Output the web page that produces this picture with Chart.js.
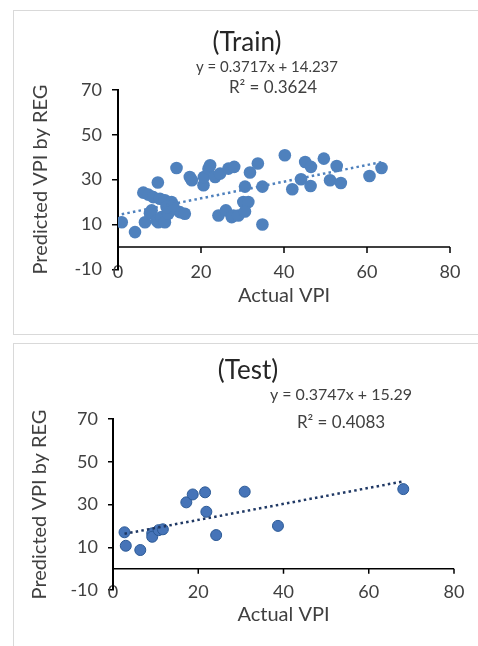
<!DOCTYPE html>
<html><head><meta charset="utf-8">
<script src="https://cdn.jsdelivr.net/npm/chart.js@4.4.1/dist/chart.umd.min.js"></script>
<style>
html,body{margin:0;padding:0;background:#fff;width:478px;height:646px;overflow:hidden;}
.panel{position:absolute;border:1.5px solid #d9d9d9;box-sizing:border-box;}
canvas{position:absolute;}
</style></head><body>
<div class="panel" style="left:13px;top:10px;width:480px;height:325px;"></div>
<div class="panel" style="left:13px;top:343px;width:480px;height:320px;"></div>
<canvas id="c1" width="478" height="330" style="left:0;top:0;width:478px;height:330px"></canvas>
<canvas id="c2" width="478" height="308" style="left:0;top:338px;width:478px;height:308px"></canvas>
<script>
// ---- data ----
const trainActual = [0.9,4.1,6.1,7.3,8.5,9.6,10.1,11.3,12.9,14.1,14.9,16.1,6.5,8.1,7.7,9.3,9.7,10.5,11.3,12.1,12.5,11.7,13.3,
  17.3,17.8,20.6,20.7,21.8,22.2,23.4,24.6,26.6,28.0,24.2,26.0,27.4,27.8,29.0,30.2,31.4,30.6,30.6,31.8,33.7,34.8,34.8,
  40.2,42.0,44.1,45.1,46.5,46.4,49.6,51.1,52.7,53.7,60.6,63.5];
const trainPredicted = [11.0,6.6,24.2,23.3,22.2,28.7,21.5,20.8,20.0,35.2,15.5,14.8,11.0,16.3,15.0,11.8,11.0,13.3,11.0,14.8,17.8,17.8,18.5,
  31.2,29.7,27.5,31.2,34.9,36.4,31.2,32.7,34.9,35.7,14.0,16.3,13.3,14.0,14.0,20.0,20.0,15.8,26.9,33.2,37.2,26.9,10.0,
  40.9,25.7,30.2,37.9,35.7,27.2,39.4,29.7,36.1,28.5,31.6,35.2];
const testActual = [2.7,3.0,6.4,9.2,9.2,10.7,11.7,17.2,18.7,21.6,21.9,24.2,30.9,38.7,68.1];
const testPredicted = [17.0,10.7,8.7,16.5,14.9,18.0,18.4,31.0,34.7,35.7,26.6,15.7,36.0,20.0,37.2];
const xTickValues = [0,20,40,60,80];
const yTickValues = [-10,10,30,50,70];
const trainSlope = 0.3717, trainIntercept = 14.237, trainR2 = 0.3624;
const testSlope = 0.3747, testIntercept = 15.29, testR2 = 0.4083;

Chart.defaults.font.family = 'Lato, "Open Sans", sans-serif';
Chart.defaults.animation = false;

const zeroAxis = {
  id: 'zeroAxis',
  beforeDatasetsDraw(chart, args, opts) {
    const {ctx, chartArea, scales} = chart;
    const x = scales.x, y = scales.y;
    const py = y.getPixelForValue(0);
    ctx.save();
    ctx.strokeStyle = '#000';
    ctx.lineWidth = opts.width;
    ctx.beginPath();
    ctx.moveTo(chartArea.left, py); ctx.lineTo(chartArea.right, py);
    x.ticks.forEach(t => { const px = x.getPixelForValue(t.value); ctx.moveTo(px, py); ctx.lineTo(px, py + opts.tick); });
    ctx.stroke();
    ctx.restore();
  }
};
const textItems = {
  id: 'textItems',
  afterDraw(chart, args, opts) {
    const ctx = chart.ctx;
    ctx.save();
    ctx.textAlign = 'center'; ctx.textBaseline = 'middle';
    opts.items.forEach(it => { ctx.font = it.font; ctx.fillStyle = it.color; ctx.fillText(it.text, it.x, it.y); });
    ctx.restore();
  }
};

function makeChart(id, xs, ys, slope, intercept, r2, st) {
  const pts = xs.map((v, i) => ({x: v, y: ys[i]}));
  const minX = Math.min(...xs), maxX = Math.max(...xs);
  const trend = [{x: minX, y: slope * minX + intercept}, {x: maxX, y: slope * maxX + intercept}];
  const step = xTickValues[1] - xTickValues[0];
  const ystep = yTickValues[1] - yTickValues[0];
  return new Chart(document.getElementById(id), {
    type: 'scatter',
    data: { datasets: [
      { type: 'line', data: trend, borderColor: st.trendColor, borderWidth: 2.5, borderDash: [2.5, 3.2],
        pointRadius: 0, fill: false, order: 0 },
      { data: pts, backgroundColor: st.pointColor, borderColor: st.pointBorder, borderWidth: st.pointBorderWidth,
        pointRadius: st.radius, order: 1 }
    ]},
    options: {
      responsive: false,
      devicePixelRatio: 1,
      layout: { padding: st.padding },
      plugins: { legend: {display: false}, tooltip: {enabled: false},
        zeroAxis: {width: 1.5, tick: st.xTick},
        textItems: {items: [
          {text: st.title, x: st.titleX, y: st.titleY, font: '26px Lato', color: '#262626'},
          {text: 'y = ' + slope + 'x + ' + intercept, x: st.eqX, y: st.eqY, font: st.eqFont, color: '#404040'},
          {text: 'R\u00B2 = ' + r2, x: st.r2X, y: st.r2Y, font: '17px Lato', color: '#404040'}
        ]}
      },
      scales: {
        x: { type: 'linear', min: xTickValues[0], max: xTickValues[xTickValues.length - 1],
          ticks: {stepSize: step, color: '#404040', font: {size: 18}, padding: st.xLabelPad, mirror: true, autoSkip: false, maxRotation: 0},
          grid: {display: false, drawTicks: false},
          border: {display: false},
          title: {display: true, text: 'Actual VPI', color: '#404040', font: {size: 20}, padding: 0},
          afterFit(s) { s.height = st.xHeight; }
        },
        y: { type: 'linear', min: yTickValues[0], max: yTickValues[yTickValues.length - 1],
          ticks: {stepSize: ystep, color: '#404040', font: {size: 18}, padding: 10, autoSkip: false},
          grid: {drawOnChartArea: false, drawTicks: true, tickLength: st.yTick, color: '#000', lineWidth: 1.5},
          border: {display: true, color: '#000', width: 2},
          title: {display: true, text: 'Predicted VPI by REG', color: '#404040', font: {size: 20}, padding: {top: st.yTitlePad, bottom: 0}},
          afterFit(s) { s.width = st.yWidth; }
        }
      }
    },
    plugins: [zeroAxis, textItems]
  });
}

makeChart('c1', trainActual, trainPredicted, trainSlope, trainIntercept, trainR2, {
  trendColor: '#4f81bd', pointColor: '#4f81bd', pointBorder: '#4f81bd', pointBorderWidth: 0, radius: 6.3,
  padding: {left: 13, top: 90, right: 28, bottom: 22.7}, xHeight: 38, yWidth: 105, yTitlePad: 16,
  xLabelPad: -13.2, xTick: 6, yTick: 6,
  title: '(Train)', titleX: 247, titleY: 43, eqX: 267, eqY: 67, eqFont: '15px Lato', r2X: 273, r2Y: 88
});
makeChart('c2', testActual, testPredicted, testSlope, testIntercept, testR2, {
  trendColor: '#1f3864', pointColor: '#4674b8', pointBorder: '#2c5a96', pointBorderWidth: 1, radius: 5.5,
  padding: {left: 13, top: 81, right: 24, bottom: 19}, xHeight: 37, yWidth: 100, yTitlePad: 15,
  xLabelPad: -12.8, xTick: 5, yTick: 5,
  title: '(Test)', titleX: 248, titleY: 33, eqX: 341, eqY: 57, eqFont: '16px Lato', r2X: 341, r2Y: 85
});
</script>
</body></html>
